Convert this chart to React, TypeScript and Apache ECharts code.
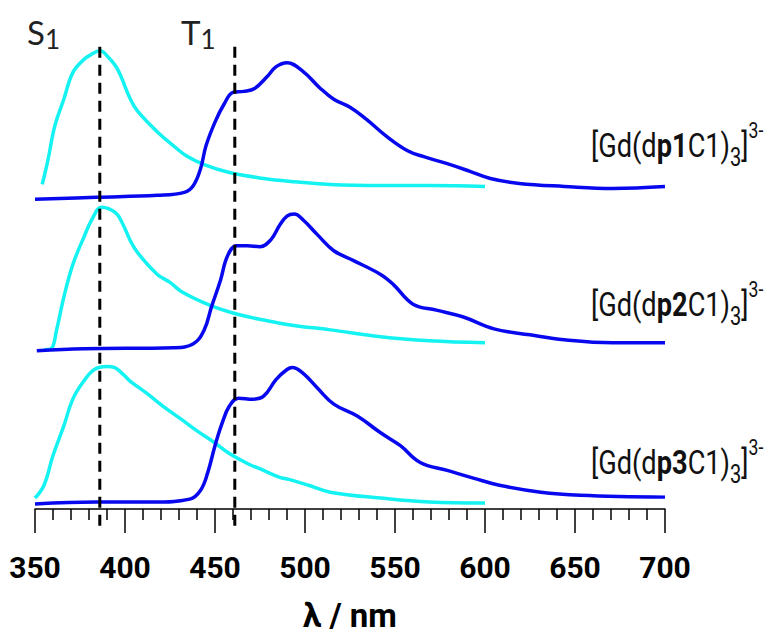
import React, { useEffect, useRef } from "react";
import * as echarts from "echarts";

// ---- data (wavelength in nm, intensity in arbitrary units) ----
const groupOffsets = [308, 155, 0]; // vertical offsets of the three stacked spectra
const groupLabels = ["1", "2", "3"];

const cyan1X = [354, 357, 361, 366, 371, 377, 381, 386, 391, 396, 403, 407, 418, 427, 434, 444, 458, 477, 492, 514, 542, 569, 600];
const cyan1Y = [20, 43, 79, 106, 133, 146, 151, 155, 148, 136, 106, 94, 73, 59, 49, 40, 32, 26, 23, 20, 19, 19, 18];
const blue1X = [350, 384, 418, 433, 438, 442, 445, 450, 455, 460, 466, 472, 479, 484, 490, 499, 508, 516, 525, 534, 545, 557, 566, 579, 592, 603, 619, 644, 671, 700];
const blue1Y = [5, 7, 9, 12, 19, 36, 59, 83, 101, 113, 114, 117, 129, 139, 143, 134, 118, 106, 98, 86, 69, 54, 48, 41, 33, 26, 21, 18, 16, 18];

const cyan2X = [355, 359, 362, 366, 371, 377, 382, 387, 395, 399, 403, 407, 418, 425, 432, 447, 462, 477, 492, 514, 542, 569, 600];
const cyan2Y = [6, 7, 26, 59, 92, 119, 139, 150, 144, 132, 116, 104, 82, 74, 64, 51, 42, 36, 31, 26, 19, 15, 13];
const blue2X = [351, 377, 427, 438, 444, 448, 453, 457, 462, 468, 475, 481, 486, 490, 494, 499, 507, 516, 527, 542, 549, 560, 573, 588, 605, 625, 644, 671, 700];
const blue2Y = [5, 7, 8, 12, 26, 49, 76, 101, 111, 111, 110, 117, 132, 141, 143, 137, 122, 106, 96, 82, 72, 52, 46, 39, 27, 21, 16, 13, 13];

const cyan3X = [350, 355, 360, 366, 371, 377, 383, 390, 394, 399, 403, 412, 421, 431, 440, 449, 458, 468, 477, 486, 491, 502, 514, 542, 569, 600];
const cyan3Y = [11, 24, 54, 84, 111, 129, 141, 144, 143, 136, 129, 117, 104, 91, 79, 68, 56, 46, 39, 32, 30, 24, 17, 11, 7, 6];
const blue3X = [350, 384, 416, 436, 442, 446, 450, 454, 458, 463, 471, 477, 484, 490, 493, 499, 507, 516, 529, 542, 553, 564, 579, 594, 608, 631, 653, 700];
const blue3Y = [5, 7, 7, 10, 19, 37, 64, 87, 104, 112, 111, 114, 131, 141, 143, 137, 122, 106, 94, 77, 64, 47, 39, 31, 24, 17, 14, 12];

const cyanSets = [[cyan1X, cyan1Y], [cyan2X, cyan2Y], [cyan3X, cyan3Y]];
const blueSets = [[blue1X, blue1Y], [blue2X, blue2Y], [blue3X, blue3Y]];

const s1Wavelength = 386;
const t1Wavelength = 461;
const dashSpan = [-17, 471];

const xTicks = { min: 350, max: 700, interval: 50 };

const FONT = 'Roboto, "Liberation Sans", sans-serif';
const CYAN = "#14F2F2";
const BLUE = "#0808EE";

export default function App() {
  const ref = useRef<HTMLDivElement>(null);
  useEffect(() => {
    document.body.style.margin = "0";
    const chart = echarts.init(ref.current!, null, { renderer: "svg" });
    const mk = (xs: number[], ys: number[], off: number) => xs.map((x, i) => [x, ys[i] + off]);
    const series: any[] = [];
    groupOffsets.forEach((off, g) => {
      series.push({
        type: "line", data: mk(cyanSets[g][0], cyanSets[g][1], off), showSymbol: false, smooth: 0.4,
        lineStyle: { color: CYAN, width: 3.5 }, silent: true,
      });
      series.push({
        type: "line", data: mk(blueSets[g][0], blueSets[g][1], off), showSymbol: false, smooth: 0.4,
        lineStyle: { color: BLUE, width: 3.5 }, silent: true,
      });
    });
    [s1Wavelength, t1Wavelength].forEach((w) => {
      series.push({
        type: "line", data: dashSpan.map((v) => [w, v]), showSymbol: false, clip: false,
        lineStyle: { color: "#000", width: 3, type: [11, 7] }, silent: true,
      });
    });

    const labelY = [145, 304, 462];
    const graphics: any[] = groupLabels.map((n, i) => ({
      type: "text", x: 591, y: labelY[i], scaleX: 0.8,
      style: {
        text: `{a|[Gd(d}{b|p${n}}{a|C1)}{sub|3}{a|]}{sup|3-}`,
        verticalAlign: "middle",
        rich: {
          a: { fontFamily: FONT, fontSize: 34, lineHeight: 50, fill: "#111" },
          b: { fontFamily: FONT, fontSize: 34, lineHeight: 50, fontWeight: "bold", fill: "#111" },
          sub: { fontFamily: FONT, fontSize: 25, lineHeight: 33, verticalAlign: "bottom", fill: "#111" },
          sup: { fontFamily: FONT, fontSize: 22, lineHeight: 29, verticalAlign: "top", fill: "#111" },
        },
      },
    }));
    const stateLabel = (letter: string, x: number) => ({
      type: "text", x, y: 32,
      style: {
        text: `{s|${letter}}{n|1}`,
        verticalAlign: "middle",
        rich: {
          s: { fontFamily: "Lato, 'Open Sans', sans-serif", fontSize: 33, lineHeight: 40, fill: "#222" },
          n: { fontFamily: "Lato, 'Open Sans', sans-serif", fontSize: 26, lineHeight: 28, verticalAlign: "bottom", fill: "#222" },
        },
      },
    });
    graphics.push(stateLabel("S", 27), stateLabel("T", 181));

    chart.setOption({
      animation: false,
      backgroundColor: "#fff",
      grid: { left: 35, right: 108, top: 34, bottom: 123 },
      xAxis: {
        type: "value", min: xTicks.min, max: xTicks.max, interval: xTicks.interval,
        name: "λ / nm", nameLocation: "middle", nameGap: 90,
        nameTextStyle: { fontFamily: FONT, fontSize: 33, fontWeight: "bold", color: "#000" },
        axisLine: { show: true, lineStyle: { color: "#000", width: 1.5 } },
        axisTick: { show: true, length: 24, lineStyle: { color: "#000", width: 1.5 } },
        minorTick: { show: true, splitNumber: 5, length: 11, lineStyle: { color: "#000", width: 1.5 } },
        axisLabel: { margin: 43, fontFamily: FONT, fontSize: 30, fontWeight: "bold", color: "#000" },
        splitLine: { show: false },
      },
      yAxis: { type: "value", min: 0, max: 480, show: false, splitLine: { show: false } },
      series,
      graphic: graphics,
    });
    return () => chart.dispose();
  }, []);
  return <div ref={ref} style={{ width: 773, height: 637 }} />;
}
